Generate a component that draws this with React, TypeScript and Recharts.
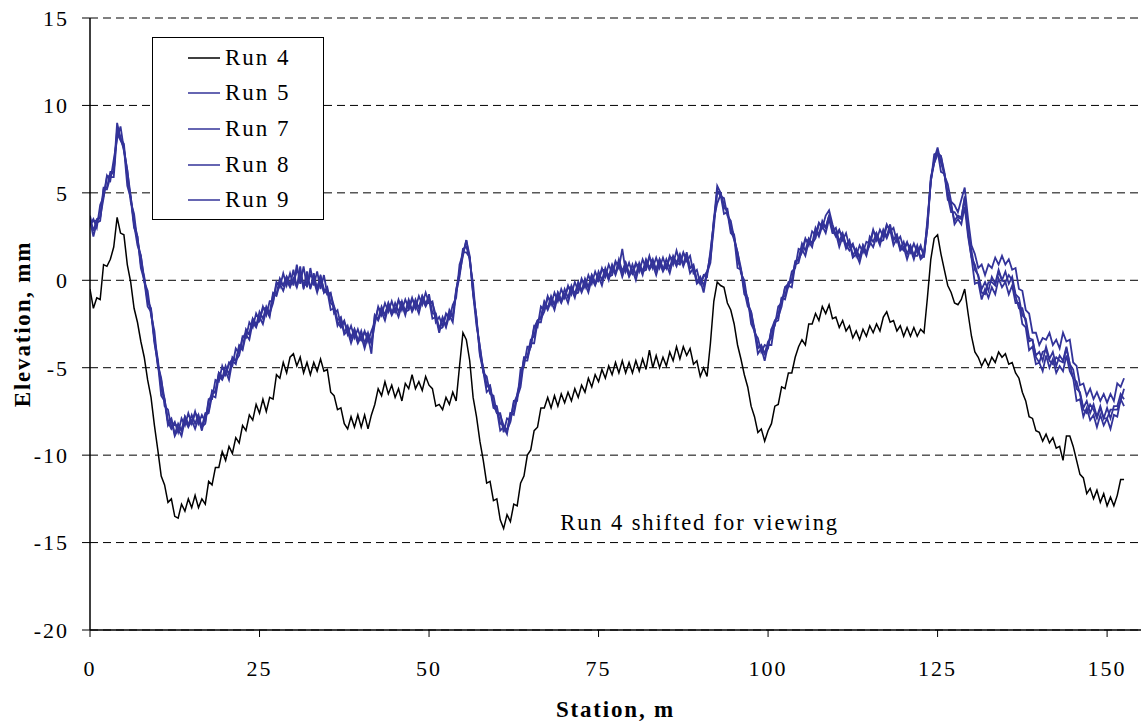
import React from 'react';
import { LineChart, Line, XAxis, YAxis, CartesianGrid, Legend, ReferenceDot, Label } from 'recharts';

// Station sampling interval (m) of the profile readings
const STEP_M = 0.5;

const RUN4 = [
  -0.5,-1.6,-1.0,-1.1,0.9,0.8,1.2,1.9,3.6,2.7,
  2.6,0.9,-0.1,-1.6,-2.4,-3.5,-4.4,-5.7,-6.7,-8.3,
  -9.7,-11.2,-11.7,-12.7,-12.5,-13.5,-13.6,-12.8,-13.2,-12.5,
  -13.0,-12.3,-13.0,-12.5,-12.8,-11.5,-11.7,-10.7,-10.7,-9.8,
  -10.3,-9.5,-9.9,-9.0,-9.3,-8.3,-8.6,-7.7,-8.0,-7.1,
  -7.6,-6.8,-7.5,-6.7,-6.8,-5.4,-5.6,-4.7,-5.3,-4.4,
  -4.2,-4.9,-4.4,-5.3,-4.7,-5.4,-4.7,-5.2,-4.5,-5.2,
  -5.1,-6.4,-6.6,-7.4,-7.3,-8.2,-8.5,-7.8,-8.4,-7.7,
  -8.4,-7.7,-8.5,-7.7,-7.1,-6.2,-6.6,-5.8,-6.5,-6.0,
  -6.7,-6.2,-6.9,-5.9,-6.2,-5.4,-6.2,-5.8,-6.3,-5.5,
  -6.0,-6.2,-7.2,-7.1,-7.4,-6.7,-7.1,-6.4,-6.9,-4.9,
  -3.0,-3.4,-4.6,-6.7,-7.8,-9.2,-10.3,-11.6,-11.5,-12.6,
  -12.5,-13.7,-14.2,-13.4,-13.8,-12.8,-12.9,-11.6,-11.2,-10.0,
  -9.7,-8.6,-8.4,-7.3,-7.3,-6.7,-7.3,-6.6,-7.2,-6.5,
  -7.0,-6.4,-6.9,-6.2,-6.7,-6.0,-6.4,-5.6,-6.1,-5.4,
  -5.8,-5.1,-5.6,-4.9,-5.4,-4.7,-5.3,-4.6,-5.3,-4.7,
  -5.3,-4.6,-5.2,-4.5,-5.1,-4.0,-5.0,-4.3,-5.0,-4.4,
  -4.9,-4.1,-4.6,-3.8,-4.5,-3.8,-4.3,-3.9,-4.8,-4.6,
  -5.5,-5.0,-5.5,-3.6,-1.2,-0.1,-0.3,-0.4,-1.3,-1.7,
  -2.5,-3.7,-4.5,-5.4,-6.1,-7.2,-7.8,-8.7,-8.5,-9.2,
  -8.6,-8.2,-7.2,-7.1,-6.1,-6.2,-5.3,-5.3,-4.4,-3.8,
  -3.4,-3.7,-2.5,-2.5,-1.9,-2.3,-1.5,-1.9,-1.4,-2.2,
  -2.1,-2.7,-2.3,-2.9,-2.6,-3.3,-2.9,-3.4,-2.8,-3.2,
  -2.6,-3.0,-2.5,-2.9,-2.1,-1.8,-2.4,-2.3,-2.9,-2.6,
  -3.2,-2.7,-3.2,-2.7,-3.2,-2.8,-3.0,-1.0,1.2,2.4,
  2.6,1.5,0.6,-0.3,-0.7,-1.3,-1.4,-1.1,-0.5,-1.9,
  -3.2,-4.1,-4.4,-4.9,-4.5,-4.9,-4.4,-4.7,-4.1,-4.4,
  -4.2,-4.8,-4.7,-5.3,-5.6,-6.4,-6.9,-7.8,-7.9,-8.6,
  -8.7,-9.2,-8.8,-9.3,-9.0,-9.6,-9.5,-10.3,-8.9,-8.9,
  -9.5,-10.3,-11.1,-11.3,-12.2,-11.9,-12.5,-12.0,-12.7,-12.2,
  -12.9,-12.4,-12.9,-12.3,-11.4,-11.4,
];

const RUN5 = [
  3.7,2.8,3.5,3.6,5.3,5.3,6.2,6.2,9.0,8.1,
  7.8,5.8,4.8,3.3,2.5,0.9,0.2,-1.1,-1.7,-3.4,
  -4.5,-6.2,-6.8,-8.1,-7.9,-8.8,-8.2,-8.6,-7.8,-8.3,
  -7.7,-8.2,-7.7,-8.4,-7.6,-7.5,-6.3,-6.4,-5.3,-5.6,
  -4.9,-5.4,-4.4,-4.6,-3.7,-3.9,-2.8,-3.1,-2.2,-2.6,
  -1.8,-2.2,-1.5,-1.9,-0.7,-0.8,0.1,-0.3,0.2,-0.3,
  0.6,-0.4,0.8,-0.5,0.5,-0.5,0.4,-0.6,0.3,-0.7,
  -0.4,-1.3,-1.5,-2.3,-2.1,-3.0,-2.6,-3.3,-2.8,-3.5,
  -2.9,-3.6,-3.0,-3.6,-2.0,-2.2,-1.5,-2.0,-1.3,-1.9,
  -1.3,-1.8,-1.2,-1.8,-1.1,-1.7,-1.1,-1.6,-0.9,-1.4,
  -0.8,-1.9,-1.9,-2.8,-2.1,-2.6,-1.7,-2.1,-0.6,0.5,
  1.8,1.9,1.3,-0.6,-2.2,-4.2,-5.0,-6.0,-6.1,-7.1,
  -7.2,-8.2,-8.3,-8.6,-7.6,-7.5,-6.5,-5.7,-4.5,-4.4,
  -3.4,-3.2,-2.3,-2.1,-1.2,-1.6,-0.9,-1.4,-0.7,-1.2,
  -0.5,-1.0,-0.3,-0.8,-0.1,-0.6,0.1,-0.4,0.3,-0.2,
  0.5,0.0,0.7,0.2,0.9,0.4,1.2,0.5,1.0,0.3,
  0.9,0.3,1.0,0.5,1.2,0.7,1.2,0.6,1.2,0.6,
  1.2,0.7,1.4,1.0,1.5,0.9,1.6,0.7,0.8,-0.1,
  0.2,-0.3,0.4,1.5,3.4,5.4,5.0,4.3,3.9,3.0,
  2.6,1.2,0.6,-0.4,-1.1,-2.2,-2.8,-3.8,-3.8,-4.2,
  -3.5,-3.3,-2.3,-2.0,-1.0,-0.9,-0.1,0.0,1.0,1.2,
  2.1,1.7,2.4,2.1,3.0,2.6,3.4,3.0,3.7,2.8,
  3.0,2.2,2.7,2.0,2.3,1.4,1.8,1.3,2.0,1.5,
  2.5,2.2,2.7,2.2,2.9,2.5,3.2,2.3,2.6,1.8,
  2.2,1.5,2.0,1.4,2.0,1.3,1.6,3.3,5.7,6.9,
  7.6,6.7,6.1,5.0,4.3,3.4,3.7,3.6,4.7,2.8,
  1.7,0.6,0.3,-0.5,-0.1,-0.6,0.2,-0.2,0.6,0.0,
  0.5,-0.2,0.2,-0.8,-1.0,-2.0,-2.2,-3.3,-3.4,-4.3,
  -4.1,-4.6,-3.8,-4.5,-4.1,-4.9,-4.3,-4.6,-3.8,-4.8,
  -5.1,-6.2,-6.4,-7.3,-6.9,-7.6,-7.1,-7.8,-7.2,-7.9,
  -7.3,-7.9,-7.2,-7.2,-6.5,-6.8,
];

const RUN7 = [
  3.2,3.5,3.0,4.3,4.8,6.0,5.7,6.9,8.1,8.8,
  7.5,6.3,4.5,3.8,2.2,1.4,-0.1,-0.6,-2.0,-2.9,
  -4.8,-5.6,-7.2,-7.4,-8.4,-8.1,-8.7,-7.9,-8.3,-7.6,
  -8.2,-7.5,-8.2,-7.7,-8.1,-6.8,-6.8,-5.7,-5.8,-4.9,
  -5.4,-4.7,-4.9,-3.9,-4.2,-3.2,-3.3,-2.4,-2.7,-1.9,
  -2.3,-1.5,-2.0,-1.2,-1.2,-0.1,-0.4,0.4,-0.3,0.4,
  -0.3,0.9,-0.2,0.8,-0.4,0.7,-0.3,0.5,-0.5,0.3,
  -0.8,-0.7,-1.9,-1.7,-2.6,-2.3,-3.1,-2.6,-3.3,-2.8,
  -3.4,-2.9,-3.5,-2.9,-2.4,-1.5,-2.0,-1.3,-1.8,-1.2,
  -1.8,-1.1,-1.7,-1.1,-1.6,-1.0,-1.6,-0.9,-1.4,-0.7,
  -1.3,-1.2,-2.4,-2.1,-2.6,-1.9,-2.2,-1.4,-1.0,0.9,
  1.5,2.3,1.1,-0.2,-2.4,-3.8,-5.3,-5.5,-6.5,-6.6,
  -7.6,-7.6,-8.7,-7.9,-8.0,-6.9,-6.9,-5.1,-4.9,-3.8,
  -3.8,-2.6,-2.7,-1.5,-1.7,-0.9,-1.4,-0.7,-1.2,-0.5,
  -1.0,-0.3,-0.8,-0.1,-0.6,0.1,-0.4,0.3,-0.2,0.5,
  0.0,0.7,0.2,0.9,0.4,1.1,0.7,1.8,0.5,1.0,
  0.4,1.0,0.5,1.2,0.7,1.4,0.7,1.3,0.7,1.3,
  0.7,1.4,0.9,1.7,1.0,1.6,1.1,1.4,0.4,0.6,
  -0.2,0.3,0.2,1.7,3.3,5.1,4.8,4.7,3.7,3.4,
  2.4,1.6,0.4,0.0,-1.3,-1.8,-3.0,-3.3,-4.1,-3.7,
  -3.8,-2.8,-2.6,-1.5,-1.3,-0.4,-0.4,0.5,0.7,1.8,
  1.7,2.4,2.0,2.8,2.6,3.3,3.0,3.7,4.0,3.2,
  2.6,2.9,2.3,2.7,1.9,2.1,1.4,2.0,1.6,2.2,
  2.1,2.9,2.3,2.9,2.5,3.2,2.8,3.0,2.2,2.5,
  1.8,2.2,1.6,2.1,1.6,2.0,1.3,3.5,5.6,7.2,
  7.3,7.1,6.0,5.5,4.5,4.3,3.9,4.6,5.3,3.5,
  2.0,1.5,0.7,0.9,0.3,0.9,0.7,1.3,0.9,1.4,
  0.9,1.2,0.6,0.7,-0.5,-0.6,-1.7,-1.9,-3.0,-3.0,
  -3.7,-3.3,-3.4,-3.0,-3.7,-3.4,-3.9,-3.0,-3.5,-3.4,
  -4.7,-4.9,-6.0,-5.9,-6.6,-6.2,-6.8,-6.4,-6.9,-6.5,
  -7.0,-6.5,-6.9,-5.9,-6.1,-5.6,
];

const RUN8 = [
  3.4,2.5,3.3,3.4,5.2,5.2,5.9,5.9,8.4,8.0,
  7.6,5.4,4.7,3.0,2.5,0.7,0.0,-1.5,-1.8,-3.6,
  -4.7,-6.6,-6.9,-8.3,-8.0,-8.9,-8.5,-8.9,-8.0,-8.4,
  -8.0,-8.5,-7.9,-8.6,-7.7,-7.6,-6.6,-6.7,-5.5,-5.7,
  -5.2,-5.7,-4.6,-4.8,-3.8,-4.0,-3.1,-3.4,-2.4,-2.7,
  -2.1,-2.5,-1.7,-2.1,-0.8,-0.9,-0.2,-0.6,0.0,-0.4,
  0.1,-0.4,0.3,-0.4,0.2,-0.4,0.0,-0.7,0.0,-0.7,
  -0.6,-1.7,-1.6,-2.6,-2.2,-3.1,-2.9,-3.6,-3.0,-3.6,
  -3.2,-3.9,-3.2,-4.2,-2.0,-2.3,-1.8,-2.3,-1.5,-2.0,
  -1.6,-2.1,-1.4,-2.0,-1.2,-1.8,-1.4,-1.9,-1.1,-1.5,
  -1.1,-2.2,-2.1,-3.0,-2.2,-2.7,-2.0,-2.4,-0.7,0.2,
  1.6,1.6,1.3,-0.8,-2.1,-4.3,-5.2,-6.4,-6.2,-7.3,
  -7.4,-8.6,-8.4,-8.8,-7.6,-7.7,-6.7,-6.1,-4.6,-4.6,
  -3.6,-3.6,-2.4,-2.4,-1.3,-1.7,-1.2,-1.7,-0.9,-1.3,
  -0.8,-1.3,-0.5,-1.0,-0.2,-0.7,-0.2,-0.7,0.1,-0.3,
  0.2,-0.3,0.5,0.0,0.8,0.3,0.9,0.2,0.8,0.2,
  0.6,0.0,0.8,0.3,1.1,0.6,0.9,0.3,1.0,0.5,
  0.9,0.4,1.2,0.8,1.4,0.8,1.3,0.4,0.7,-0.2,
  0.0,-0.7,0.4,1.0,3.5,4.4,4.9,3.8,3.9,2.7,
  2.5,0.7,0.6,-0.8,-1.0,-2.5,-2.9,-4.2,-3.9,-4.6,
  -3.7,-3.7,-2.4,-2.3,-1.0,-1.1,-0.3,-0.4,0.9,1.0,
  1.8,1.4,2.2,1.9,2.9,2.5,3.1,2.7,3.5,2.7,
  2.7,1.9,2.5,1.8,2.2,1.3,1.5,1.0,1.8,1.4,
  2.2,1.9,2.5,2.0,2.8,2.4,2.9,2.0,2.4,1.7,
  1.9,1.2,1.8,1.2,1.9,1.2,1.4,3.0,5.7,6.7,
  7.4,6.2,6.1,4.6,4.4,3.2,3.5,3.2,4.2,2.5,
  1.3,-0.2,-0.1,-1.1,-0.5,-1.0,-0.4,-0.8,0.1,-0.4,
  -0.1,-0.8,-0.3,-1.3,-1.3,-2.5,-2.7,-4.0,-3.8,-4.8,
  -4.7,-5.2,-4.3,-5.0,-4.5,-5.3,-4.9,-5.2,-4.3,-5.2,
  -5.6,-6.9,-6.8,-7.8,-7.3,-8.0,-7.7,-8.4,-7.7,-8.3,
  -7.9,-8.5,-7.7,-7.8,-6.8,-7.2,
];

const RUN9 = [
  3.2,3.4,3.4,3.6,4.7,5.9,6.0,6.2,8.6,8.2,
  7.4,6.3,4.8,3.2,2.0,1.4,0.1,-1.2,-1.6,-3.4,
  -4.9,-5.7,-6.8,-8.1,-8.5,-8.2,-8.4,-8.6,-7.8,-8.2,
  -8.2,-7.6,-7.8,-8.4,-8.2,-6.9,-6.5,-6.4,-5.3,-5.5,
  -5.4,-4.8,-4.5,-4.6,-4.3,-3.3,-3.0,-3.1,-2.2,-2.5,
  -2.3,-1.6,-1.6,-1.9,-1.3,-0.2,-0.1,-0.3,0.2,-0.2,
  -0.1,0.5,0.4,-0.2,-0.3,0.3,0.1,-0.4,0.2,-0.5,
  -0.8,-0.8,-1.5,-2.4,-2.7,-2.4,-2.8,-3.3,-2.8,-3.4,
  -3.4,-3.0,-3.1,-3.6,-2.5,-1.6,-1.7,-2.0,-1.3,-1.8,
  -1.8,-1.2,-1.3,-1.8,-1.7,-1.1,-1.3,-1.6,-0.9,-1.3,
  -1.3,-1.3,-2.0,-2.8,-2.7,-2.0,-1.9,-2.1,-0.5,0.4,
  1.4,2.3,1.4,-0.8,-2.6,-3.8,-5.1,-6.1,-6.0,-7.1,
  -7.6,-7.7,-8.3,-8.6,-8.1,-7.0,-6.6,-5.8,-4.4,-4.4,
  -3.8,-2.7,-2.3,-2.2,-1.8,-1.0,-1.1,-1.4,-0.7,-1.1,
  -1.0,-0.4,-0.4,-0.8,-0.7,0.0,-0.1,-0.4,0.3,-0.1,
  0.0,0.6,0.6,0.2,0.3,1.0,1.0,0.5,1.0,0.4,
  0.4,0.9,0.9,0.5,0.6,1.3,1.0,0.6,1.2,0.7,
  0.7,1.3,1.3,1.0,0.9,1.5,1.4,0.7,0.9,0.0,
  -0.2,0.2,0.5,1.2,3.0,5.1,5.0,4.1,4.1,2.9,
  2.3,1.6,0.7,-0.6,-1.5,-1.8,-2.8,-3.9,-3.7,-4.2,
  -3.9,-2.8,-2.3,-2.1,-1.5,-0.4,-0.2,-0.1,1.1,1.2,
  1.6,2.3,2.3,2.1,2.4,3.2,3.2,3.0,3.7,2.9,
  2.5,2.8,2.6,2.0,1.7,2.0,1.6,1.3,2.0,1.6,
  2.0,2.8,2.6,2.2,2.3,3.1,3.0,2.3,2.6,1.9,
  1.7,2.1,1.9,1.4,1.4,1.9,1.5,3.0,5.9,6.7,
  7.2,7.1,6.2,4.8,3.9,3.9,3.6,3.5,4.8,2.7,
  1.3,0.9,0.2,-0.7,-0.8,-0.1,-0.1,-0.3,0.5,0.0,
  -0.1,0.3,0.0,-0.9,-1.6,-1.6,-2.4,-3.5,-3.4,-4.4,
  -4.7,-4.1,-4.0,-4.6,-4.8,-4.4,-4.6,-4.7,-3.9,-4.8,
  -5.6,-5.8,-6.5,-7.4,-7.6,-7.1,-7.4,-7.9,-7.3,-7.9,
  -7.9,-7.4,-7.4,-7.4,-6.9,-6.2,
];

const X_TICKS = [0, 25, 50, 75, 100, 125, 150];
const Y_TICKS = [-20, -15, -10, -5, 0, 5, 10, 15];

const SERIES = [
  { key: 'r4', name: 'Run 4', color: '#000000', width: 1.5, values: RUN4 },
  { key: 'r5', name: 'Run 5', color: '#333399', width: 1.8, values: RUN5 },
  { key: 'r7', name: 'Run 7', color: '#333399', width: 1.8, values: RUN7 },
  { key: 'r8', name: 'Run 8', color: '#333399', width: 1.8, values: RUN8 },
  { key: 'r9', name: 'Run 9', color: '#333399', width: 1.8, values: RUN9 },
];

const FONT = '"Liberation Serif", "Times New Roman", Times, serif';

const n = Math.min(...SERIES.map((s) => s.values.length));
const data = Array.from({ length: n }, (_, i) => {
  const row: Record<string, number> = { x: i * STEP_M };
  SERIES.forEach((s) => {
    row[s.key] = s.values[i];
  });
  return row;
});

const LegendBox = () => (
  <div
    style={{
      width: 170,
      height: 179,
      border: '1px solid #000',
      background: '#fff',
      boxSizing: 'content-box',
      fontFamily: FONT,
      fontSize: 23,
      letterSpacing: 2,
      color: '#000',
      paddingTop: 2,
    }}
  >
    {SERIES.map((s) => (
      <div key={s.key} style={{ height: 35.6, display: 'flex', alignItems: 'center' }}>
        <svg width={32} height={10} style={{ marginLeft: 35, marginRight: 5 }}>
          <line x1={0} y1={5} x2={32} y2={5} stroke={s.color} strokeWidth={1.5} />
        </svg>
        <span style={{ lineHeight: '24px' }}>{s.name}</span>
      </div>
    ))}
  </div>
);

export default function App() {
  return (
    <div style={{ position: 'absolute', left: 0, top: 0, width: 1143, height: 725, background: '#fff' }}>
      <LineChart
        width={1143}
        height={725}
        data={data}
        margin={{ top: 18, right: 2, bottom: 0, left: 0 }}
      >
        <CartesianGrid
          horizontal
          vertical={false}
          stroke="#000"
          strokeWidth={1}
          strokeDasharray="8 5"
          horizontalValues={Y_TICKS}
        />
        <XAxis
          dataKey="x"
          type="number"
          domain={[0, 155]}
          ticks={X_TICKS}
          allowDataOverflow
          height={95}
          tickSize={7}
          tickMargin={23}
          axisLine={{ stroke: '#000', strokeWidth: 1.5 }}
          tickLine={{ stroke: '#000', strokeWidth: 1 }}
          tick={{ fontSize: 22, fill: '#000', fontFamily: FONT, letterSpacing: 2 }}
        >
          <Label
            value="Station, m"
            position="insideBottom"
            offset={8}
            style={{ fontSize: 23, fontWeight: 'bold', fill: '#000', fontFamily: FONT, letterSpacing: 1.8 }}
          />
        </XAxis>
        <YAxis
          type="number"
          domain={[-20, 15]}
          ticks={Y_TICKS}
          allowDataOverflow
          width={90}
          tickSize={8}
          tickMargin={13}
          axisLine={{ stroke: '#000', strokeWidth: 1.5 }}
          tickLine={{ stroke: '#000', strokeWidth: 1 }}
          tick={{ fontSize: 22, fill: '#000', fontFamily: FONT, letterSpacing: 2 }}
        >
          <Label
            value="Elevation, mm"
            angle={-90}
            position="insideLeft"
            offset={22}
            style={{ textAnchor: 'middle', fontSize: 23, fontWeight: 'bold', fill: '#000', fontFamily: FONT, letterSpacing: 1.8 }}
          />
        </YAxis>
        <Legend
          layout="vertical"
          align="center"
          verticalAlign="middle"
          content={() => <LegendBox />}
          wrapperStyle={{ position: 'absolute', left: 152, top: 37, width: 172, height: 181 }}
        />
        {SERIES.map((s) => (
          <Line
            key={s.key}
            type="linear"
            dataKey={s.key}
            name={s.name}
            stroke={s.color}
            strokeWidth={s.width}
            dot={false}
            activeDot={false}
            isAnimationActive={false}
          />
        ))}
        <ReferenceDot
          x={89.9}
          y={-13.8}
          r={0}
          fill="none"
          stroke="none"
          label={{
            value: 'Run 4 shifted for viewing',
            position: 'center',
            fill: '#000',
            fontSize: 22.5,
            fontFamily: FONT,
            letterSpacing: 1.9,
          }}
        />
      </LineChart>
    </div>
  );
}
